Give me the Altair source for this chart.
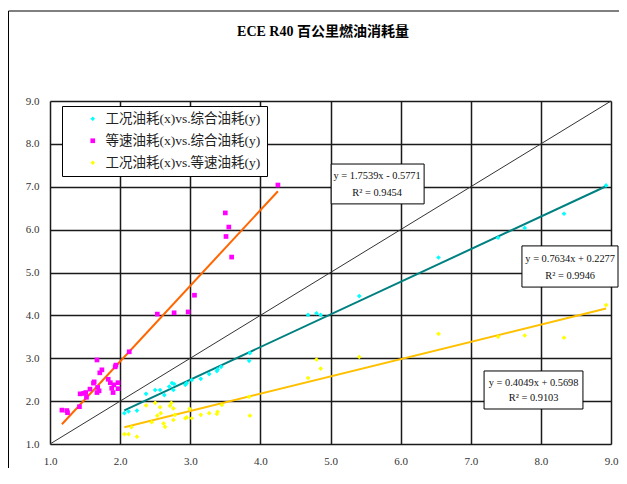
import altair as alt
import pandas as pd

series_names = ["工况油耗(x)vs.综合油耗(y)", "等速油耗(x)vs.综合油耗(y)", "工况油耗(x)vs.等速油耗(y)"]

cyan_x = [2.06, 2.12, 2.24, 2.37, 2.50, 2.57, 2.63, 2.70, 2.74, 2.77, 2.76, 2.93, 2.95, 3.02, 3.15,
          3.27, 3.38, 3.39, 3.44, 3.84, 3.85, 4.68, 4.80, 4.86, 5.41, 6.54, 7.39, 7.77, 8.33, 8.93]
cyan_y = [1.72, 1.76, 1.78, 2.17, 2.26, 2.26, 2.14, 2.34, 2.42, 2.40, 2.26, 2.38, 2.42, 2.49, 2.52,
          2.63, 2.70, 2.74, 2.80, 2.94, 3.12, 4.01, 4.05, 4.01, 4.45, 5.35, 5.81, 6.04, 6.37, 7.03]

mag_x = [1.17, 1.24, 1.25, 1.42, 1.43, 1.48, 1.51, 1.52, 1.57, 1.62, 1.63, 1.67, 1.70, 1.68, 1.67,
         1.71, 1.74, 1.83, 1.86, 1.88, 1.91, 1.90, 1.97, 1.97, 1.93, 1.94, 2.13,
         2.53, 2.77, 2.97, 3.06, 3.50, 3.55, 3.51, 3.59, 4.25]
mag_y = [1.79, 1.78, 1.73, 1.87, 2.17, 2.18, 2.20, 2.09, 2.28, 2.42, 2.45, 2.20, 2.24, 2.32, 2.96,
         2.66, 2.73, 2.51, 2.43, 2.30, 2.38, 2.20, 2.43, 2.29, 2.80, 2.84, 3.15,
         4.03, 4.06, 4.08, 4.47, 6.39, 6.06, 5.84, 5.36, 7.04]

yel_x = [2.06, 2.12, 2.16, 2.24, 2.37, 2.45, 2.50, 2.53, 2.57, 2.58, 2.62, 2.64, 2.71, 2.73, 2.76,
         2.76, 2.78, 2.93, 2.95, 2.99, 3.02, 3.15, 3.27, 3.38, 3.39, 3.45, 3.84, 3.85,
         4.68, 4.80, 4.86, 5.41, 6.54, 7.39, 7.77, 8.33, 8.93]
yel_y = [1.23, 1.23, 1.39, 1.17, 1.90, 1.51, 1.96, 1.66, 1.86, 1.72, 1.48, 1.40, 1.89, 1.96, 1.83,
         1.56, 1.68, 1.60, 1.62, 1.82, 1.60, 1.68, 1.72, 1.70, 1.75, 1.91, 2.10, 1.66,
         2.54, 2.97, 2.76, 3.03, 3.57, 3.50, 3.53, 3.48, 4.24]

diag = [1.0, 9.0]
ticks = [1.0, 1.5, 2.0, 2.5, 3.0, 3.5, 4.0, 4.5, 5.0, 5.5, 6.0, 6.5, 7.0, 7.5, 8.0, 8.5, 9.0]
title_text = ["ECE R40  百公里燃油消耗量"]
eq_text = ["y = 1.7539x - 0.5771", "y = 0.7634x + 0.2277", "y = 0.4049x + 0.5698"]
r2_text = ["R² = 0.9454", "R² = 0.9946", "R² = 0.9103"]
# annotation anchors (data units)
box_x1 = [5.01, 7.73, 7.19]
box_x2 = [6.335, 9.10, 8.60]
box_y1 = [6.60, 4.66, 1.816]
box_y2 = [7.53, 5.62, 2.703]
lab_x = [5.665, 8.418, 7.897]
lab_y1 = [7.25, 5.315, 2.423]
lab_y2 = [6.855, 4.918, 2.073]

point_colors = ["#00FFFF", "#FF00FF", "#FFFF00"]
line_colors = ["#FF6600", "#008080", "#FFC000"]
SERIF = "Liberation Serif, Noto Sans CJK SC"

df_c = pd.DataFrame({"x": cyan_x, "y": cyan_y, "series": series_names[0]})
df_m = pd.DataFrame({"x": mag_x, "y": mag_y, "series": series_names[1]})
df_y = pd.DataFrame({"x": yel_x, "y": yel_y, "series": series_names[2]})
df_pts = pd.concat([df_c, df_m, df_y], ignore_index=True)
df_diag = pd.DataFrame({"x": diag, "y": diag})
df_box = pd.DataFrame({"x1": box_x1, "x2": box_x2, "y1": box_y1, "y2": box_y2,
                       "lx": lab_x, "ly1": lab_y1, "ly2": lab_y2, "eq": eq_text, "r2": r2_text})

xs = alt.Scale(domain=[1, 9], nice=False, zero=False)
ys = alt.Scale(domain=[1, 9], nice=False, zero=False)

def axis():
    return alt.Axis(values=ticks, format=".1f", grid=True, gridColor="#1a1a1a", gridWidth=1.5,
                    domain=False, ticks=False, labelFont=SERIF, labelFontSize=11, labelColor="#333333",
                    labelPadding=11, labelFlush=False, labelOverlap=False, title=None)

X = alt.X("x:Q", scale=xs, axis=axis())
Y = alt.Y("y:Q", scale=ys, axis=axis())

border = alt.Chart(pd.DataFrame({"a": [0]})).mark_rect(
    fill=None, stroke="black", strokeWidth=1
).encode(x=alt.value(-41.5), x2=alt.value(700), y=alt.value(-90), y2=alt.value(600))

diag_line = alt.Chart(df_diag).mark_line(color="#333333", strokeWidth=1).encode(x=X, y=Y)

def reg(df, color):
    return alt.Chart(df).transform_regression("x", "y").mark_line(
        color=color, strokeWidth=2).encode(x=X, y=Y)

lines = [reg(df_m, line_colors[0]), reg(df_c, line_colors[1]), reg(df_y, line_colors[2])]

leg = alt.Legend(title=None, orient="none", legendX=12, legendY=5, fillColor="white",
                 strokeColor="black", padding=6, labelFont=SERIF, labelFontSize=13.5,
                 labelColor="#222222", symbolSize=22, rowPadding=7, symbolOffset=18,
                 labelOffset=6, symbolStrokeWidth=0)

points = alt.Chart(df_pts).mark_point(filled=True, size=22, opacity=1).encode(
    x=X, y=Y,
    color=alt.Color("series:N", scale=alt.Scale(domain=series_names, range=point_colors), legend=leg),
    shape=alt.Shape("series:N", scale=alt.Scale(domain=series_names, range=["diamond", "square", "diamond"]), legend=leg),
)

boxes = alt.Chart(df_box).mark_rect(fill="white", stroke="black", strokeWidth=1).encode(
    x=alt.X("x1:Q", scale=xs), x2="x2:Q", y=alt.Y("y1:Q", scale=ys), y2="y2:Q")
eq_t = alt.Chart(df_box).mark_text(font=SERIF, fontSize=10.4, color="#111111", baseline="middle").encode(
    x=alt.X("lx:Q", scale=xs), y=alt.Y("ly1:Q", scale=ys), text="eq:N")
r2_t = alt.Chart(df_box).mark_text(font=SERIF, fontSize=10.4, color="#111111", baseline="middle").encode(
    x=alt.X("lx:Q", scale=xs), y=alt.Y("ly2:Q", scale=ys), text="r2:N")

title = alt.Chart(pd.DataFrame({"t": title_text})).mark_text(
    font=SERIF, fontSize=14, fontWeight="bold", color="black", baseline="middle"
).encode(x=alt.value(273), y=alt.value(-69), text="t:N")

chart = alt.layer(border, diag_line, *lines, points, boxes, eq_t, r2_t, title).properties(
    width=561, height=343,
    padding={"left": 42, "top": 93, "right": 8, "bottom": 24},
    autosize="none",
).configure_view(fill="#C0C0C0", stroke="black", strokeWidth=1.5).configure(background="white")

chart.save("out.html", embed_options={"renderer": "svg", "actions": False})
